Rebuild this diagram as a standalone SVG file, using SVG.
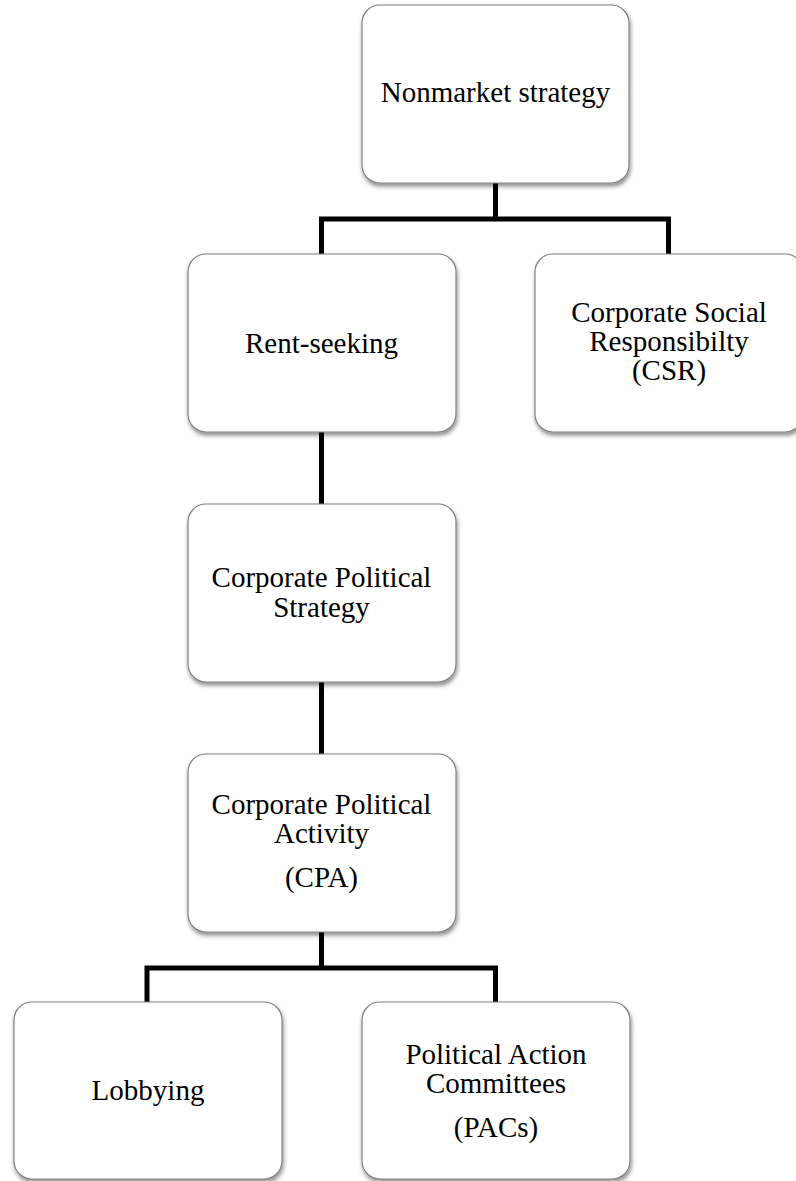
<svg xmlns="http://www.w3.org/2000/svg" width="796" height="1181" viewBox="0 0 796 1181">
  <defs>
    <filter id="shadow" x="-10%" y="-10%" width="125%" height="125%">
      <feDropShadow dx="1" dy="3" stdDeviation="2.2" flood-color="#000" flood-opacity="0.45"/>
    </filter>
    <style>
      .box { fill: #ffffff; stroke: #808080; stroke-width: 1.2; filter: url(#shadow); }
      .label { font-family: "Liberation Serif", "Times New Roman", serif; font-size: 29px; fill: #000; text-anchor: middle; }
      .link { fill: none; stroke: #000; stroke-width: 5; stroke-linejoin: miter; stroke-linecap: butt; }
    </style>
  </defs>

  <rect width="796" height="1181" fill="#ffffff"/>

  <!-- connectors -->
  <g id="connectors">
    <path class="link" d="M495.5,183 V219"/>
    <path class="link" d="M321.5,254 V219 H668.5 V254"/>
    <path class="link" d="M321.5,432 V504"/>
    <path class="link" d="M321.5,682 V754"/>
    <path class="link" d="M321.5,932 V968"/>
    <path class="link" d="M147,1002 V968 H495.5 V1002"/>
  </g>

  <g id="nonmarket-strategy">
    <rect class="box" x="362" y="5" width="267" height="178" rx="18" ry="18"/>
    <text class="label" x="495.5" y="102">Nonmarket strategy</text>
  </g>

  <g id="rent-seeking">
    <rect class="box" x="188" y="254" width="268" height="178" rx="18" ry="18"/>
    <text class="label" x="321.5" y="353">Rent-seeking</text>
  </g>

  <g id="csr">
    <rect class="box" x="535" y="254" width="268" height="178" rx="18" ry="18"/>
    <text class="label" x="669" y="322">Corporate Social</text>
    <text class="label" x="669" y="351">Responsibilty</text>
    <text class="label" x="669" y="380">(CSR)</text>
  </g>

  <g id="corporate-political-strategy">
    <rect class="box" x="188" y="504" width="268" height="178" rx="18" ry="18"/>
    <text class="label" x="321.5" y="587">Corporate Political</text>
    <text class="label" x="321.5" y="617">Strategy</text>
  </g>

  <g id="corporate-political-activity">
    <rect class="box" x="188" y="754" width="268" height="178" rx="18" ry="18"/>
    <text class="label" x="321.5" y="814">Corporate Political</text>
    <text class="label" x="321.5" y="843">Activity</text>
    <text class="label" x="321.5" y="887">(CPA)</text>
  </g>

  <g id="lobbying">
    <rect class="box" x="14" y="1002" width="268" height="177" rx="18" ry="18"/>
    <text class="label" x="148" y="1100">Lobbying</text>
  </g>

  <g id="pacs">
    <rect class="box" x="362" y="1002" width="268" height="177" rx="18" ry="18"/>
    <text class="label" x="496" y="1064">Political Action</text>
    <text class="label" x="496" y="1093">Committees</text>
    <text class="label" x="496" y="1137">(PACs)</text>
  </g>
</svg>
